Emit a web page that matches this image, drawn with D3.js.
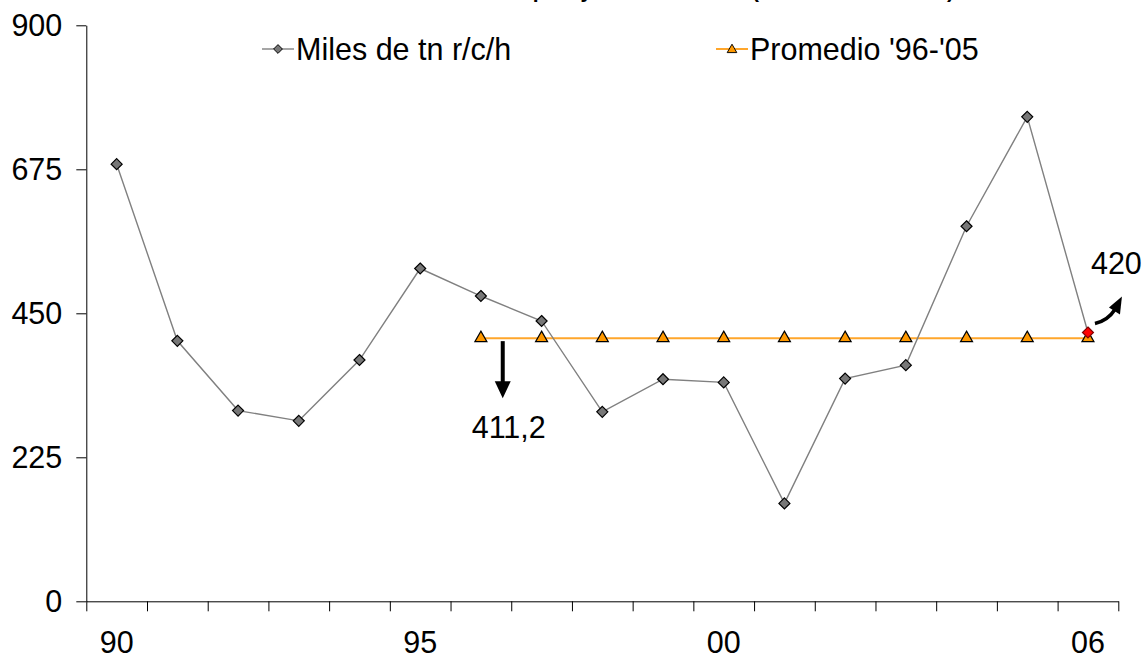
<!DOCTYPE html>
<html>
<head>
<meta charset="utf-8">
<script src="https://cdn.jsdelivr.net/npm/d3@7/dist/d3.min.js"></script>
<style>
  html, body { margin: 0; padding: 0; background: #fff; }
  svg { display: block; font-family: Arial, "Liberation Sans", sans-serif; }
</style>
</head>
<body>
<svg id="chart" width="1145" height="660"></svg>
<script>
// ---- data ----
const categories = ["90","91","92","93","94","95","96","97","98","99","00","01","02","03","04","05","06"];
const shownLabels = ["90","95","00","06"];
const milesValues = [683, 407, 298, 282, 377, 520, 477, 438, 296, 347, 342, 153, 348, 369, 586, 757, 420];
const promedioCats = ["96","97","98","99","00","01","02","03","04","05","06"];
const promedioValue = 411.2;
const yTicks = [0, 225, 450, 675, 900];
const seriesNames = ["Miles de tn r/c/h", "Promedio '96-'05"];
const titleText = "Consumo del país y año calendario (miles de toneladas)";
const noteAvg = "411,2";
const noteLast = "420";

// ---- layout ----
const svg = d3.select("#chart");
const x0 = 86.3, x1 = 1118.3, yBottom = 601.3, yTop = 25.3;
const x = d3.scaleBand().domain(categories).range([x0, x1]).padding(0);
const xIdx = d3.scaleLinear().domain([0, categories.length]).range([x0, x1]);
const y = d3.scaleLinear().domain([0, 900]).range([yBottom, yTop]);
const cx = d => x(d) + x.bandwidth() / 2;
const font = 30.5;

// title (mostly clipped at top, as in the reference)
svg.append("text").attr("x", 954).attr("y", -2)
  .attr("text-anchor", "end").attr("font-weight", "bold").attr("font-size", 21)
  .text(titleText);

// y axis
const yAxis = svg.append("g").attr("transform", `translate(${x0},0)`)
  .call(d3.axisLeft(y).tickValues(yTicks).tickSize(10).tickSizeOuter(0).tickPadding(14));
yAxis.selectAll("text").attr("font-size", font).attr("fill", "#000")
  .attr("font-family", "Arial, 'Liberation Sans', sans-serif");
yAxis.selectAll("line, path").attr("stroke", "#000").attr("stroke-width", 1);

// x axis (ticks at category boundaries)
const xAxis = svg.append("g").attr("transform", `translate(0,${yBottom})`)
  .call(d3.axisBottom(xIdx).tickValues(d3.range(categories.length + 1)).tickSize(10).tickSizeOuter(0).tickFormat(""));
xAxis.selectAll("line, path").attr("stroke", "#000").attr("stroke-width", 1);
svg.append("g").selectAll("text").data(shownLabels).join("text")
  .attr("x", d => cx(d)).attr("y", 653)
  .attr("text-anchor", "middle").attr("font-size", font).text(d => d);

// promedio line
const promData = promedioCats.map(c => ({c, v: promedioValue}));
svg.append("path").datum(promData)
  .attr("fill", "none").attr("stroke", "#FFA62B").attr("stroke-width", 2)
  .attr("d", d3.line().x(d => cx(d.c)).y(d => y(d.v)));

// series line
const seriesData = categories.map((c, i) => ({c, v: milesValues[i]}));
svg.append("path").datum(seriesData)
  .attr("fill", "none").attr("stroke", "#808080").attr("stroke-width", 1.4)
  .attr("d", d3.line().x(d => cx(d.c)).y(d => y(d.v)));

// markers
const diamondPath = "M0,-5.5L5.5,0L0,5.5L-5.5,0Z";
const triPath = "M0,-6L6,4.5L-6,4.5Z";

svg.append("g").selectAll("path").data(promData).join("path")
  .attr("transform", d => `translate(${cx(d.c)},${y(d.v) - 1})`)
  .attr("d", triPath).attr("fill", "#FF9900").attr("stroke", "#000").attr("stroke-width", 1.2);

svg.append("g").selectAll("path").data(seriesData).join("path")
  .attr("transform", d => `translate(${cx(d.c)},${y(d.v)})`)
  .attr("d", diamondPath)
  .attr("fill", (d, i) => i === seriesData.length - 1 ? "#FF0000" : "#777777")
  .attr("stroke", (d, i) => i === seriesData.length - 1 ? "#800000" : "#000")
  .attr("stroke-width", 1.2);

// legend
const leg = svg.append("g");
const legItems = [
  {name: seriesNames[0], x: 262, line: "#808080", shape: diamondPath, fill: "#777777"},
  {name: seriesNames[1], x: 716, line: "#FFA62B", shape: triPath, fill: "#FF9900"}
];
legItems.forEach(it => {
  leg.append("line").attr("x1", it.x).attr("x2", it.x + 32).attr("y1", 49).attr("y2", 49)
    .attr("stroke", it.line).attr("stroke-width", it.line === "#808080" ? 1.4 : 2);
  leg.append("path").attr("d", it.shape).attr("transform", `translate(${it.x + 16},49) scale(0.8)`)
    .attr("fill", it.fill).attr("stroke", "#000").attr("stroke-width", 1.2);
  leg.append("text").attr("x", it.x + 34).attr("y", 60).attr("font-size", font).text(it.name);
});

// annotation: average arrow
const ax = cx("96") + (cx("97") - cx("96")) * 0.36;
const ay0 = y(promedioValue) + 3;
svg.append("line").attr("x1", ax).attr("x2", ax).attr("y1", ay0).attr("y2", ay0 + 44)
  .attr("stroke", "#000").attr("stroke-width", 4);
svg.append("path")
  .attr("d", `M${ax - 8},${ay0 + 40}L${ax + 8},${ay0 + 40}L${ax},${ay0 + 57}Z`)
  .attr("fill", "#000");
svg.append("text").attr("x", ax + 6).attr("y", 438).attr("text-anchor", "middle")
  .attr("font-size", font).text(noteAvg);

// annotation: last value curved arrow
const lx = cx("06"), ly = y(milesValues[milesValues.length - 1]);
svg.append("path")
  .attr("d", `M${lx + 7},${ly - 9} Q${lx + 20},${ly - 12} ${lx + 27},${ly - 23}`)
  .attr("fill", "none").attr("stroke", "#000").attr("stroke-width", 3.5);
svg.append("path")
  .attr("d", `M${lx + 21},${ly - 25} L${lx + 34},${ly - 36} L${lx + 32},${ly - 18} Z`)
  .attr("fill", "#000");
svg.append("text").attr("x", lx + 3).attr("y", 274).attr("font-size", font).text(noteLast);
</script>
</body>
</html>
